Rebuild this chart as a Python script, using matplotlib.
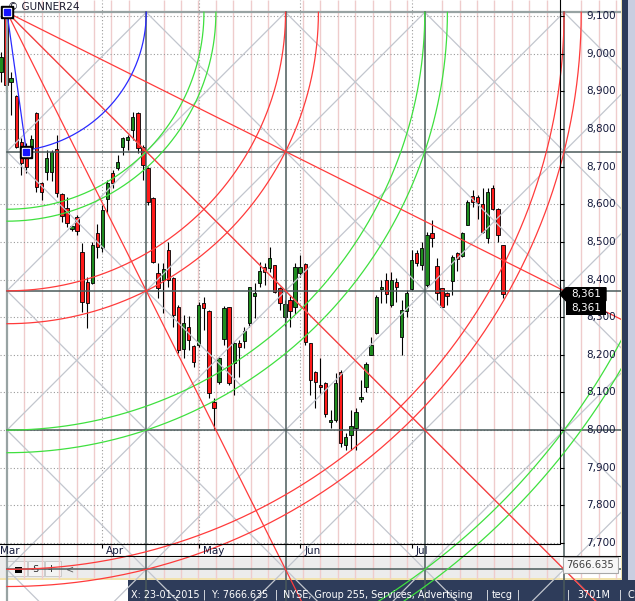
import numpy as np
import matplotlib.pyplot as plt
from matplotlib.patches import Rectangle, Polygon
from matplotlib.transforms import Affine2D

# daily candles, Mar - Jul
opens = [8951, 9105, 8925, 8887, 8765, 8752, 8749, 8842, 8656, 8685,
         8685, 8747, 8627, 8590, 8534, 8566, 8473, 8393, 8391, 8524,
         8484, 8614, 8683, 8696, 8752, 8770, 8797, 8842, 8752, 8696,
         8616, 8417, 8399, 8478, 8404, 8327, 8215, 8274, 8223, 8226,
         8337, 8316, 8074, 8128, 8242, 8327, 8178, 8231, 8237, 8284,
         8356, 8391, 8433, 8430, 8438, 8377, 8300, 8345, 8327, 8417,
         8441, 8231, 8154, 8120, 8125, 8021, 8027, 8154, 7960, 7987,
         8005, 8083, 8114, 8199, 8258, 8375, 8399, 8332, 8393, 8247,
         8316, 8375, 8470, 8438, 8385, 8523, 8436, 8377, 8364, 8396,
         8470, 8462, 8545, 8622, 8619, 8601, 8510, 8643, 8587, 8491]
highs = [9004, 9110, 8951, 8890, 8776, 8762, 8784, 8845, 8659, 8744,
         8744, 8784, 8630, 8619, 8545, 8571, 8497, 8406, 8500, 8547,
         8598, 8664, 8691, 8731, 8778, 8784, 8845, 8845, 8757, 8699,
         8619, 8444, 8444, 8499, 8406, 8332, 8306, 8303, 8226, 8340,
         8353, 8319, 8085, 8194, 8330, 8327, 8234, 8239, 8274, 8380,
         8391, 8446, 8444, 8486, 8438, 8380, 8345, 8359, 8444, 8465,
         8444, 8231, 8157, 8191, 8128, 8053, 8151, 8159, 7992, 8053,
         8058, 8133, 8181, 8247, 8359, 8399, 8417, 8420, 8404, 8345,
         8372, 8478, 8478, 8499, 8526, 8558, 8457, 8377, 8367, 8465,
         8473, 8526, 8611, 8638, 8624, 8643, 8643, 8651, 8590, 8491]
lows = [8925, 8895, 8837, 8750, 8677, 8683, 8740, 8632, 8611, 8664,
        8662, 8619, 8553, 8539, 8529, 8518, 8313, 8271, 8388, 8457,
        8473, 8577, 8643, 8690, 8731, 8744, 8770, 8736, 8664, 8598,
        8444, 8351, 8311, 8380, 8274, 8205, 8191, 8213, 8167, 8221,
        8266, 8085, 8000, 8122, 8226, 8120, 8093, 8141, 8218, 8274,
        8298, 8380, 8385, 8420, 8364, 8319, 8276, 8274, 8308, 8407,
        8226, 8093, 8058, 8098, 8035, 8005, 8021, 7955, 7947, 7947,
        7947, 8075, 8101, 8199, 8255, 8337, 8337, 8327, 8340, 8199,
        8300, 8372, 8436, 8425, 8380, 8486, 8345, 8324, 8332, 8359,
        8423, 8460, 8545, 8593, 8561, 8523, 8497, 8585, 8499, 8351]
closes = [8991, 8917, 8935, 8752, 8709, 8698, 8773, 8646, 8632, 8723,
          8739, 8630, 8568, 8550, 8542, 8529, 8340, 8337, 8492, 8487,
          8584, 8656, 8656, 8712, 8776, 8778, 8832, 8749, 8704, 8606,
          8446, 8377, 8428, 8399, 8306, 8213, 8284, 8239, 8181, 8332,
          8324, 8098, 8058, 8191, 8324, 8125, 8231, 8221, 8263, 8380,
          8364, 8423, 8420, 8457, 8367, 8337, 8335, 8316, 8433, 8433,
          8234, 8133, 8128, 8114, 8043, 8027, 8125, 7965, 7981, 8011,
          8048, 8088, 8175, 8226, 8353, 8380, 8361, 8399, 8380, 8319,
          8364, 8452, 8444, 8484, 8518, 8510, 8364, 8327, 8356, 8459,
          8454, 8523, 8606, 8606, 8603, 8526, 8632, 8587, 8518, 8361]

month_labels = ["Mar", "Apr", "May", "Jun", "Jul"]
month_starts = [-1, 20, 39, 59, 81]
price_ticks = list(range(7700, 9101, 100))

# GUNNER24 setup: pivot high, second point and square size
pivot_bar, pivot_price = 1.18, 9110
second_bar, second_price = 5, 8740
box_bars, box_pts = 27.47, 370
green_r = [np.sqrt(2), 1.5, 3, np.sqrt(10), 5, np.sqrt(26)]
red_r = [2, np.sqrt(5), 4, np.sqrt(17)]
ray_slopes = [0.5, 1, 2]

status_items = [(131, "X: 23-01-2015"), (203, "|"), (212, "Y: 7666.635"), (275, "|"),
                (283, "NYSE, Group 255, Services, Advertising"), (486, "|"),
                (492, "tecg"), (517, "|"), (567, "|"), (577, "3701M"), (619, "|"), (627, "C")]

# screen layout
W, H = 635, 601
CANVAS_W = 621
PX_BAR, X0 = 5.07, 1.0
PX_PT, Y8000 = 0.37643, 430.1


def bar_at(x):
    return (x - X0) / PX_BAR


def price_at(y):
    return 8000 + (Y8000 - y) / PX_PT


def to_data(u, v):
    return (pivot_bar + np.asarray(u, float) * box_bars,
            pivot_price - np.asarray(v, float) * box_pts)


fig = plt.figure(figsize=(W / 100, H / 100), dpi=100)
fig.patch.set_facecolor("white")
ax = fig.add_axes([0, 0, CANVAS_W / W, 1])
ax.set_xlim(bar_at(0), bar_at(CANVAS_W))
ax.set_ylim(price_at(H), price_at(0))
ax.axis("off")

px = Affine2D().scale(0.01, -0.01).translate(0, H / 100) + fig.dpi_scale_trans


def rect(x, y, w, h, z, **kw):
    ax.add_patch(Rectangle((x, y), w, h, transform=px, clip_on=False, zorder=z, **kw))


# UI background panels
rect(0, 558, 560, 20, 0.5, fc="#ececec", ec="none")
rect(0, 578, W, 2, 0.5, fc="#f2e3ad", ec="none")
rect(128, 580, W - 128, 21, 0.5, fc="#2e3c5a", ec="none")
for x, w in [(7, 20), (28, 16), (45, 16)]:
    rect(x, 561, w, 15, 0.6, fc="#f4f4f4", ec="#c4c4c4", lw=0.6)
rect(15, 567, 7, 6, 0.7, fc="black", ec="none")
ax.text(31, 569, "-S", transform=px, fontsize=6.5, va="center", color="#202020", zorder=0.7)
ax.text(48, 569, "-I", transform=px, fontsize=6.5, va="center", color="#202020", zorder=0.7)
ax.text(66, 569, "<", transform=px, fontsize=7, va="center", color="#606060", zorder=0.7)
for x, s in status_items:
    ax.text(x, 598, s, transform=px, fontsize=6.9, color="white", va="baseline",
            zorder=5, clip_on=False)

# chart grid
for k in range(1, 36):
    if k % 8:
        b, _ = to_data(k / 8, 0)
        ax.vlines(b, price_at(579), price_at(0), color="#efcccc", lw=1.0, zorder=1)
ax.hlines(price_ticks, bar_at(0), bar_at(560), color="#9a9a9a", lw=0.8,
          linestyles=(0, (1, 2)), zorder=1.2)
ax.vlines(month_starts[1:], price_at(544), price_at(0), color="#9a9a9a", lw=0.8,
          linestyles=(0, (1, 2)), zorder=1.2)

# candles
idx = np.arange(len(opens))
o, h, l, c = map(np.array, (opens, highs, lows, closes))
up = c >= o
ax.vlines(idx, l, h, color="black", lw=0.8, zorder=3)
body = np.maximum(np.abs(c - o), 3)
ax.bar(idx[up], body[up], bottom=np.minimum(o, c)[up], width=0.66,
       color="#1e8c1e", edgecolor="black", lw=0.6, zorder=3.1)
ax.bar(idx[~up], body[~up], bottom=np.minimum(o, c)[~up], width=0.66,
       color="#ff1a1a", edgecolor="black", lw=0.6, zorder=3.1)

# GUNNER24 overlay: diagonal lattice
for k in range(-5, 6):
    u, v = ([k, k + 6], [0, 6]) if k >= 0 else ([0, 6], [-k, 6 - k])
    ax.plot(*to_data(u, v), color="#c2c6ce", lw=0.9, zorder=4)
for k in range(1, 11):
    ax.plot(*to_data([k, 0], [0, k]), color="#c2c6ce", lw=0.9, zorder=4)

# squares
for k in range(5):
    col, lw = ("#98a3a3", 1.6) if k == 0 else ("#4a5a5a", 1.1)
    ax.plot(*to_data([k, k], [0, 6]), color=col, lw=lw, zorder=4.2)
    ax.plot(*to_data([0, 6], [k, k]), color=col, lw=lw, zorder=4.2)

# arcs and fan
th = np.linspace(0, np.pi / 2, 300)
for r in green_r:
    ax.plot(*to_data(r * np.cos(th), r * np.sin(th)), color="#3fe03f", lw=0.9, zorder=4.4)
for r in red_r:
    ax.plot(*to_data(r * np.cos(th), r * np.sin(th)), color="#ff3b3b", lw=0.9, zorder=4.4)
for s in ray_slopes:
    ax.plot(*to_data([0, 8], [0, 8 * s]), color="#ff3b3b", lw=0.9, zorder=4.4)

su = (second_bar - pivot_bar) / box_bars
sv = (pivot_price - second_price) / box_pts
tb = np.linspace(0, np.arctan2(sv, su), 200)
ax.plot(*to_data(np.cos(tb), np.sin(tb)), color="#2a2aff", lw=0.9, zorder=4.6)
ax.plot([pivot_bar, second_bar], [pivot_price, second_price], color="#2a2aff", lw=0.9, zorder=4.6)
for b, p in [(pivot_bar, pivot_price), (second_bar, second_price)]:
    ax.plot(b, p, marker="s", ms=8.0, color="black", zorder=6, clip_on=False)
    ax.plot(b, p, marker="s", ms=6.4, color="white", zorder=6.1, clip_on=False)
    ax.plot(b, p, marker="s", ms=5.0, color="#1414ff", zorder=6.2, clip_on=False)

ax.text(8, 10, "\u00a9 GUNNER24", transform=px, fontsize=7.5, color="#1a1a2e",
        va="baseline", zorder=5.5)

# axes frame
ax.plot([0, 560, 560], [544, 544, 0], transform=px, color="black", lw=0.8, zorder=6, clip_on=False)
ax.plot([0, 621], [556, 556], transform=px, color="black", lw=0.8, zorder=6, clip_on=False)
for p in price_ticks:
    ax.hlines(p, bar_at(560), bar_at(564), color="black", lw=0.8, zorder=6)
    ax.text(bar_at(616), p, f"{p:,}", ha="right", va="center", fontsize=7.5,
            color="#141a3c", zorder=7)
for m, lab in zip(month_starts, month_labels):
    ax.vlines(m, price_at(548), price_at(544), color="black", lw=0.8, zorder=6)
    ax.text(m + 4 / PX_BAR, price_at(551), lab, ha="left", va="center", fontsize=7.5,
            color="#141a3c", zorder=7)

# last price tags
last = closes[-1]
yl = Y8000 - (last - 8000) * PX_PT
ax.add_patch(Polygon([(560, yl), (566, yl - 6.5), (606, yl - 6.5), (606, yl + 6.5), (566, yl + 6.5)],
                     closed=True, transform=px, fc="black", ec="black", zorder=8, clip_on=False))
rect(566, yl + 7, 40, 14, 8, fc="black", ec="none")
for yy in (yl, yl + 14):
    ax.text(586, yy, f"{last:,}", transform=px, ha="center", va="center", fontsize=7.5,
            color="white", zorder=9)
rect(563, 557, 55, 16, 8, fc="#f7f7f7", ec="#a8a8a8", lw=0.8)
ax.text(590, 565.5, "7666.635", transform=px, ha="center", va="center", fontsize=7.2,
        color="#404040", zorder=9)

# right side panel
rect(620.5, 0, 1.5, 580, 9, fc="#f1e4b0", ec="none")
rect(622, 0, 6, 601, 9, fc="#2e3c5a", ec="none")
rect(628, 0, 7, 580, 9, fc="#c9cee0", ec="none")

fig.savefig("out.png", dpi=100)
